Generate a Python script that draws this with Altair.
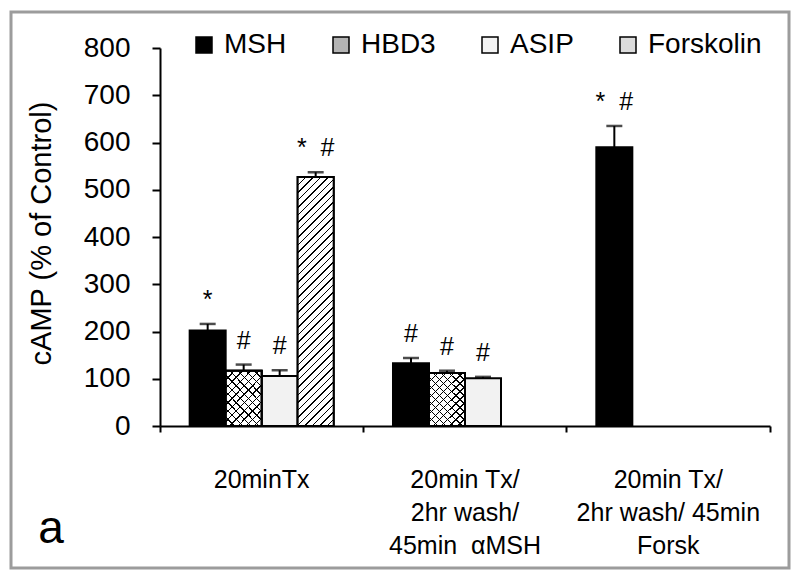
import altair as alt
import pandas as pd

# ---- data ----
groups = ["20minTx", "20min Tx/\n2hr wash/\n45min \u00a0αMSH", "20min Tx/\n2hr wash/ 45min\nForsk"]
series = ["MSH", "HBD3", "ASIP", "Forskolin"]

row_group = [0, 0, 0, 0, 1, 1, 1, 2]
row_series = ["MSH", "HBD3", "ASIP", "Forskolin", "MSH", "HBD3", "ASIP", "MSH"]
values = [202, 117, 106, 527, 133, 112, 101, 590]
errors = [14, 13, 12, 10, 11, 5, 3, 45]
sig = ["*", "#", "#", "*\u00a0\u00a0#", "#", "#", "#", "*\u00a0\u00a0#"]

df = pd.DataFrame({
    "group": [groups[i] for i in row_group],
    "series": row_series,
    "value": values,
    "err": errors,
    "sig": sig,
})
df["top"] = df["value"] + df["err"]

legend_fill = ["#000000", "#b4b4b4", "#f2f2f2", "#dcdcdc"]


# ---- hatch styles built as striped gradients ----
def stripes(W, H, period, frac, direction, bg):
    s = (W + H) / (W * W + H * H)
    n = int(round((W + H) / period))
    stops = []
    for k in range(n):
        a = k / n
        b = (k + frac) / n
        c = (k + 1) / n
        stops += [
            {"offset": round(a, 5), "color": "black"},
            {"offset": round(b, 5), "color": "black"},
            {"offset": round(b, 5), "color": bg},
            {"offset": round(c, 5), "color": bg},
        ]
    if direction == "/":
        return {"gradient": "linear", "x1": 0, "y1": 0, "x2": s * W, "y2": s * H, "stops": stops}
    return {"gradient": "linear", "x1": 0, "y1": 1, "x2": s * W, "y2": 1 - s * H, "stops": stops}


x_enc = alt.X(
    "group:N",
    sort=groups,
    scale=alt.Scale(domain=groups, paddingInner=0, paddingOuter=0),
    axis=alt.Axis(
        title=None,
        labelExpr="split(datum.label, '\\n')",
        labelFontSize=25,
        labelLineHeight=33,
        labelPadding=35,
        labelAngle=0,
        labelColor="black",
        labelLimit=400,
        labelBaseline="top",
        tickSize=6,
        tickWidth=2,
        tickColor="black",
        domainColor="black",
        domainWidth=2,
        bandPosition=1,
        tickExtra=True,
    ),
)
xo_enc = alt.XOffset(
    "series:N",
    sort=series,
    scale=alt.Scale(domain=series, paddingInner=0, paddingOuter=0.824),
)


def y_enc(field):
    return alt.Y(
        field,
        type="quantitative",
        scale=alt.Scale(domain=[0, 800], nice=False),
        axis=alt.Axis(
            title="cAMP (% of Control)",
            values=list(range(0, 801, 100)),
            grid=False,
            labelFontSize=28,
            labelColor="black",
            labelPadding=22,
            tickSize=8,
            tickWidth=2,
            tickColor="black",
            domainColor="black",
            domainWidth=2,
            titleFontSize=29,
            titleFontWeight="normal",
            titleColor="black",
            titleX=-119,
            titleY=185,
            titleAngle=270,
            titleAlign="center",
            titleBaseline="middle",
        ),
    )


base = alt.Chart(df).encode(x=x_enc, xOffset=xo_enc)

bars = base.mark_bar(stroke="black", strokeWidth=2).encode(
    y=y_enc("value"),
    color=alt.Color(
        "series:N",
        sort=series,
        scale=alt.Scale(domain=series, range=legend_fill),
        legend=alt.Legend(
            title=None,
            orient="none",
            legendX=30,
            legendY=-17,
            direction="horizontal",
            symbolType="square",
            symbolSize=256,
            symbolStrokeColor="black",
            symbolStrokeWidth=1.5,
            labelFontSize=28,
            labelColor="black",
            labelOffset=6,
            columnPadding=40,
            padding=0,
        ),
    ),
)

hbd_a = base.transform_filter("datum.series == 'HBD3'").mark_bar(
    fill=stripes(36, 54, 8, 0.17, "/", "white"), stroke="black", strokeWidth=2
).encode(y=y_enc("value"))
hbd_b = base.transform_filter("datum.series == 'HBD3'").mark_bar(
    fill=stripes(36, 54, 8, 0.17, "\\", "rgba(255,255,255,0)"), stroke="black", strokeWidth=2
).encode(y=y_enc("value"))
fsk = base.transform_filter("datum.series == 'Forskolin'").mark_bar(
    fill=stripes(36, 249, 7.5, 0.2, "/", "white"), stroke="black", strokeWidth=2
).encode(y=y_enc("value"))

err_rule = base.mark_rule(color="black", strokeWidth=2).encode(y=y_enc("value"), y2="top:Q")
err_cap = base.mark_tick(color="black", thickness=2.5, size=16).encode(y=y_enc("top"))
sig_text = base.mark_text(fontSize=25, dy=-24, baseline="middle", color="black").encode(
    y=y_enc("top"), text="sig:N"
)

frame = alt.Chart(pd.DataFrame({"k": [0]})).mark_rect(
    fillOpacity=0, stroke="#9c9c9c", strokeWidth=3
).encode(x=alt.value(-149), x2=alt.value(629), y=alt.value(-36), y2=alt.value(520))

panel_tag = alt.Chart(pd.DataFrame({"k": [0]})).mark_text(
    fontSize=46, align="center", baseline="alphabetic", color="black"
).encode(x=alt.value(-109), y=alt.value(495), text=alt.value("a"))

chart = alt.layer(
    bars, hbd_a, hbd_b, fsk, err_rule, err_cap, sig_text, frame, panel_tag
).properties(
    width=610,
    height=378,
    autosize=alt.AutoSizeParams(type="none"),
    padding={"left": 152, "top": 40, "right": 22, "bottom": 146},
).configure(
    font="Liberation Sans"
).configure_view(
    stroke="transparent"
)

chart.save("out.html", embed_options={"renderer": "svg", "actions": False})
